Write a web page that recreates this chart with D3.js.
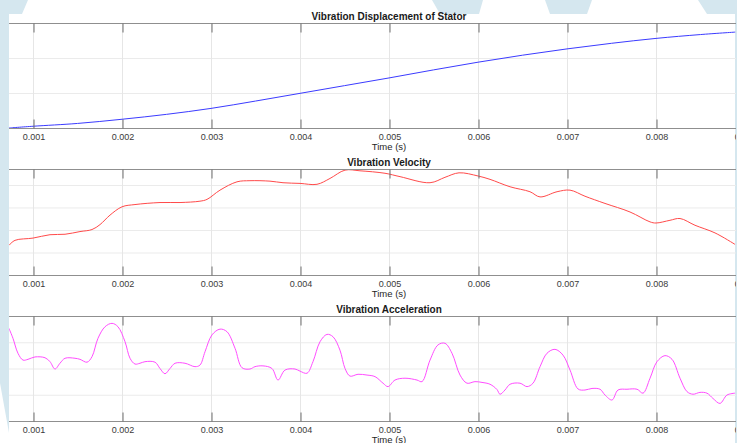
<!DOCTYPE html>
<html>
<head>
<meta charset="utf-8">
<script src="https://cdn.jsdelivr.net/npm/d3@7"></script>
<style>
  body { margin: 0; background: #fff; }
  svg { display: block; font-family: "Liberation Sans", Arial, sans-serif; }
</style>
</head>
<body>
<div id="chart"></div>
<script>
// time stamps in milliseconds, values in arbitrary units
const dispTimeMs = [0.73, 1.0, 1.5, 2.0, 2.5, 3.0, 3.5, 4.0, 4.5, 5.0, 5.5, 6.0, 6.5, 7.0, 7.5, 8.0, 8.5, 8.89];
const dispValues = [0.0, 0.05, 0.13, 0.25, 0.39, 0.56, 0.77, 0.99, 1.21, 1.43, 1.66, 1.88, 2.08, 2.26, 2.42, 2.56, 2.67, 2.74];

const velTimeMs = [0.730, 0.798, 1.000, 1.191, 1.360, 1.528, 1.663, 1.753, 1.865, 2.000, 2.146, 2.427, 2.652, 2.876, 2.955,
  3.101, 3.292, 3.438, 3.663, 3.809, 4.000, 4.191, 4.337, 4.506, 4.674, 4.955, 5.124, 5.461, 5.629, 5.787, 6.000, 6.135,
  6.360, 6.584, 6.697, 6.888, 7.034, 7.202, 7.427, 7.708, 7.933, 8.000, 8.157, 8.270, 8.438, 8.663, 8.888];
const velValues = [1.32, 1.54, 1.64, 1.79, 1.81, 1.93, 2.02, 2.24, 2.66, 3.03, 3.13, 3.22, 3.22, 3.28, 3.36,
  3.77, 4.14, 4.19, 4.17, 4.10, 4.07, 4.03, 4.29, 4.66, 4.63, 4.52, 4.37, 4.10, 4.34, 4.54, 4.40, 4.25,
  3.92, 3.70, 3.47, 3.70, 3.77, 3.50, 3.18, 2.80, 2.36, 2.31, 2.43, 2.51, 2.21, 1.87, 1.36];

const accTimeMs = [0.730, 0.775, 0.831, 0.888, 0.944, 1.022, 1.135, 1.191, 1.247, 1.303, 1.360, 1.472, 1.528, 1.607, 1.663,
  1.730, 1.809, 1.888, 1.955, 2.034, 2.090, 2.146, 2.202, 2.258, 2.371, 2.427, 2.483, 2.539, 2.596, 2.708, 2.820, 2.876,
  2.933, 3.011, 3.101, 3.180, 3.270, 3.348, 3.438, 3.494, 3.584, 3.685, 3.753, 3.831, 3.944, 4.000, 4.079, 4.146, 4.225,
  4.303, 4.371, 4.449, 4.506, 4.562, 4.652, 4.753, 4.843, 4.933, 4.989, 5.067, 5.180, 5.315, 5.371, 5.461, 5.551, 5.629,
  5.708, 5.798, 5.876, 5.966, 6.045, 6.135, 6.213, 6.247, 6.303, 6.360, 6.472, 6.551, 6.618, 6.697, 6.775, 6.865, 6.955,
  7.034, 7.124, 7.202, 7.281, 7.371, 7.427, 7.506, 7.573, 7.674, 7.787, 7.854, 7.933, 8.011, 8.101, 8.180, 8.270, 8.348,
  8.416, 8.494, 8.573, 8.640, 8.719, 8.798, 8.888];
const accValues = [3.53, 3.15, 2.58, 2.32, 2.35, 2.44, 2.41, 2.26, 1.98, 2.20, 2.39, 2.39, 2.35, 2.24, 2.45,
  3.15, 3.59, 3.72, 3.59, 3.02, 2.39, 2.17, 2.20, 2.26, 2.24, 2.00, 1.80, 2.00, 2.20, 2.20, 2.07, 2.13,
  2.64, 3.28, 3.50, 3.40, 2.77, 2.03, 1.98, 2.07, 2.10, 2.00, 1.56, 1.94, 1.98, 1.90, 1.82, 2.26, 3.02,
  3.30, 3.21, 2.70, 2.00, 1.71, 1.78, 1.75, 1.69, 1.44, 1.31, 1.56, 1.63, 1.56, 1.50, 2.32, 2.90, 2.96,
  2.58, 1.75, 1.44, 1.50, 1.47, 1.40, 1.20, 1.02, 1.18, 1.40, 1.44, 1.31, 1.44, 2.07, 2.58, 2.73, 2.51,
  1.94, 1.22, 1.18, 1.24, 1.21, 0.99, 0.80, 1.18, 1.21, 1.21, 1.06, 1.63, 2.26, 2.49, 2.35, 1.63, 1.12,
  1.02, 1.09, 1.06, 0.86, 0.67, 0.99, 1.06];

const xTickValues = [0.001, 0.002, 0.003, 0.004, 0.005, 0.006, 0.007, 0.008, 0.009];
const xTickLabels = ['0.001', '0.002', '0.003', '0.004', '0.005', '0.006', '0.007', '0.008', '0.009'];
const panelTitles = ['Vibration Displacement of Stator', 'Vibration Velocity', 'Vibration Acceleration'];
const xLabel = 'Time (s)';

const W = 737, H = 443;

const svg = d3.select('#chart').append('svg')
  .attr('width', W)
  .attr('height', H);

// decorative light blue backdrop shapes
const bg = '#d5e7ef';
const shapes = [
  [[0, 0], [28, 0], [22, 14], [9, 14], [9, 433], [0, 383]],
  [[432, 0], [483, 0], [479, 14], [440, 14]],
  [[545, 0], [592, 0], [587, 14], [550, 14]],
  [[698, 0], [737, 0], [737, 443], [735, 443], [735, 14], [707, 14]]
];
svg.selectAll('polygon.bg')
  .data(shapes)
  .join('polygon')
  .attr('class', 'bg')
  .attr('points', d => d.map(p => p.join(',')).join(' '))
  .attr('fill', bg);

// white figure panel
svg.append('rect')
  .attr('x', 9).attr('y', 14)
  .attr('width', 726).attr('height', H - 14)
  .attr('fill', '#fff');

svg.append('clipPath').attr('id', 'fig-clip')
  .append('rect')
  .attr('x', 9).attr('y', 0)
  .attr('width', 727).attr('height', H);

const fig = svg.append('g').attr('clip-path', 'url(#fig-clip)');

// shared x scale
const x = d3.scaleLinear()
  .domain([0.001, 0.008])
  .range([33, 656]);

const panels = [
  { time: dispTimeMs, values: dispValues, top: 23, bottom: 128, yDomain: [0, 3], yTicks: [0, 1, 2, 3], color: '#3b3bff' },
  { time: velTimeMs, values: velValues, top: 169, bottom: 275, yDomain: [0, 4.71], yTicks: [0, 1, 2, 3, 4], color: '#ff4a4a' },
  { time: accTimeMs, values: accValues, top: 316, bottom: 421, yDomain: [0, 4], yTicks: [0, 1, 2, 3, 4], color: '#ff4dff' }
];

panels.forEach((p, i) => {
  const y = d3.scaleLinear()
    .domain(p.yDomain)
    .range([p.bottom, p.top]);

  const g = fig.append('g');

  // horizontal grid
  g.selectAll('line.hgrid')
    .data(p.yTicks)
    .join('line')
    .attr('class', 'hgrid')
    .attr('x1', 0).attr('x2', W)
    .attr('y1', d => y(d) + 0.5).attr('y2', d => y(d) + 0.5)
    .attr('stroke', '#ebebeb')
    .attr('stroke-width', 1);

  // vertical grid
  g.selectAll('line.vgrid')
    .data(xTickValues)
    .join('line')
    .attr('class', 'vgrid')
    .attr('x1', d => Math.round(x(d)) + 0.5).attr('x2', d => Math.round(x(d)) + 0.5)
    .attr('y1', p.top).attr('y2', p.bottom)
    .attr('stroke', '#e6e6e6')
    .attr('stroke-width', 1);

  // data line
  const line = d3.line()
    .x((d, k) => x(p.time[k] / 1000))
    .y(d => y(d))
    .curve(d3.curveCatmullRom.alpha(0.5));

  g.append('path')
    .datum(p.values)
    .attr('d', line)
    .attr('fill', 'none')
    .attr('stroke', p.color)
    .attr('stroke-width', 1);

  // box top / bottom edges
  [p.top, p.bottom].forEach(yy => {
    g.append('line')
      .attr('x1', 0).attr('x2', W)
      .attr('y1', yy + 0.5).attr('y2', yy + 0.5)
      .attr('stroke', '#8f8f8f')
      .attr('stroke-width', 1);
  });

  // bottom axis: inward ticks + labels
  const xAxis = d3.axisBottom(x)
    .tickValues(xTickValues)
    .tickFormat((d, k) => xTickLabels[k])
    .tickSizeInner(-9)
    .tickSizeOuter(0)
    .tickPadding(5);

  const ax = g.append('g')
    .attr('transform', `translate(0.5,${p.bottom + 0.5})`)
    .call(xAxis);
  ax.select('.domain').remove();
  ax.selectAll('.tick line').attr('stroke', '#6e6e6e');
  ax.selectAll('.tick text')
    .attr('fill', '#3a3a3a')
    .style('font-size', '9px')
    .style('font-family', '"Liberation Sans", Arial, sans-serif');

  // top axis: inward ticks only
  const xTop = d3.axisTop(x)
    .tickValues(xTickValues)
    .tickFormat('')
    .tickSizeInner(-9)
    .tickSizeOuter(0);
  const at = g.append('g')
    .attr('transform', `translate(0.5,${p.top + 0.5})`)
    .call(xTop);
  at.select('.domain').remove();
  at.selectAll('.tick line').attr('stroke', '#6e6e6e');

  // x label
  g.append('text')
    .attr('x', x(0.005))
    .attr('y', p.bottom + 22)
    .attr('text-anchor', 'middle')
    .attr('fill', '#262626')
    .style('font-size', '9.5px')
    .text(xLabel);

  // title
  g.append('text')
    .attr('x', x(0.005))
    .attr('y', p.top - 3)
    .attr('text-anchor', 'middle')
    .attr('fill', '#1a1a1a')
    .style('font-size', '10px')
    .style('font-weight', 'bold')
    .text(panelTitles[i]);
});
</script>
</body>
</html>
